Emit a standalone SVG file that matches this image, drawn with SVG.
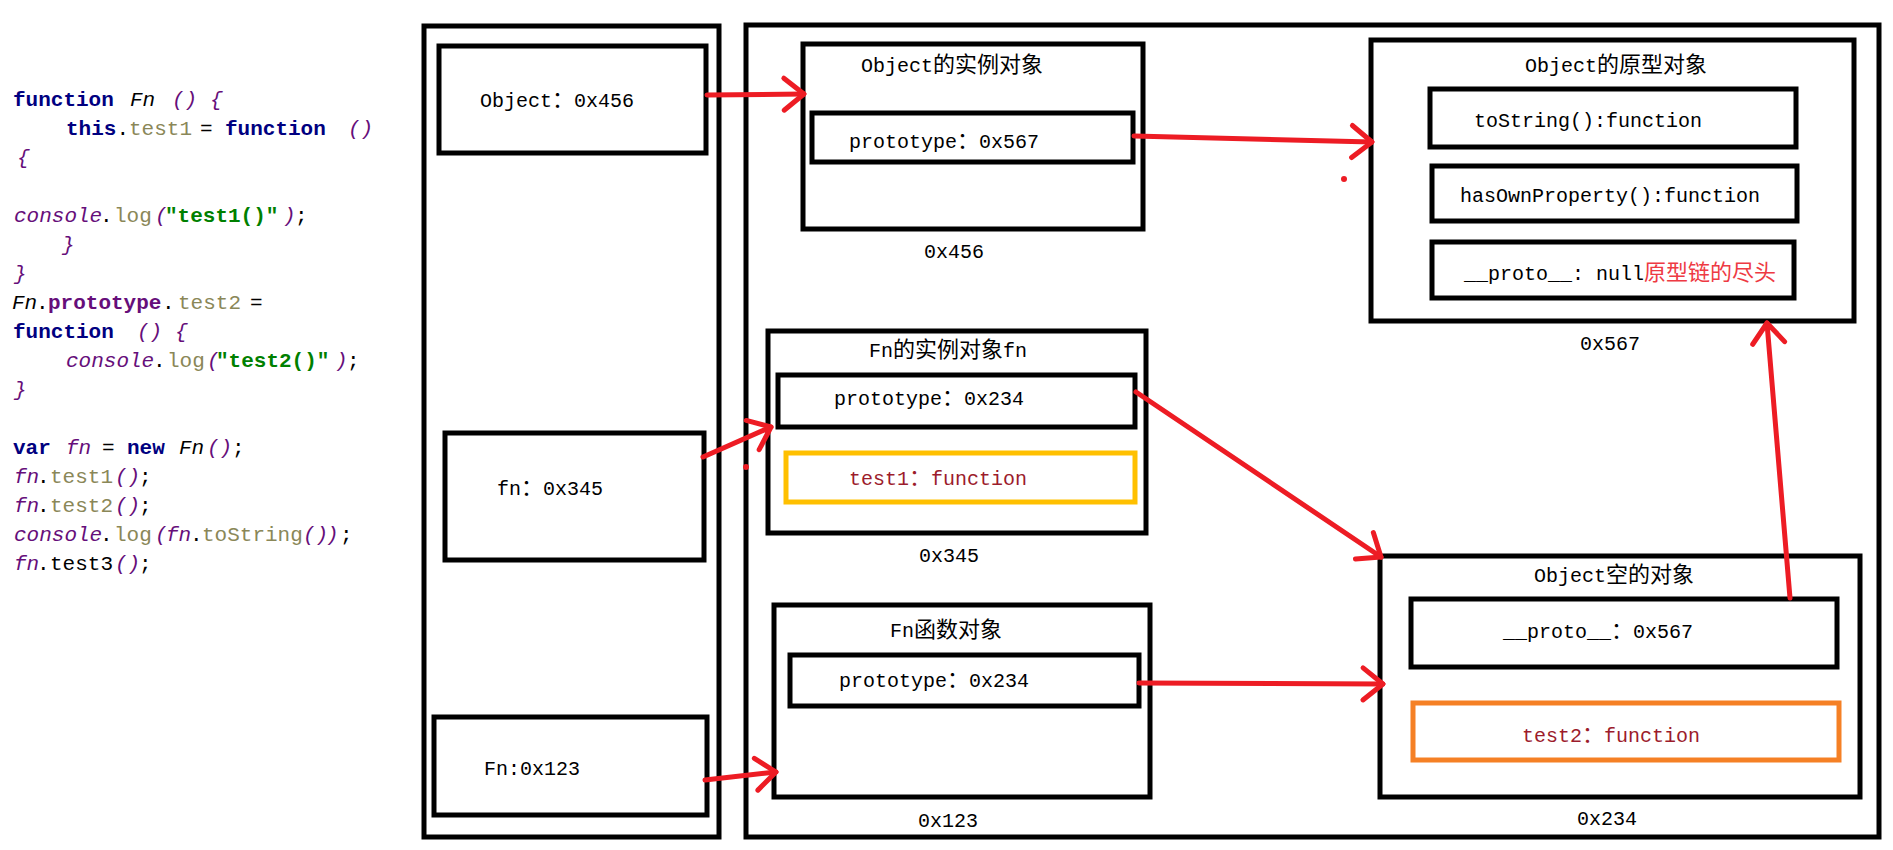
<svg xmlns="http://www.w3.org/2000/svg" width="1893" height="850" viewBox="0 0 1893 850">
<style>
.code{font-family:"Liberation Mono","Noto Sans CJK SC",monospace;font-size:21px;fill:#000}
.kw{font-weight:bold;fill:#000080}
.pu{font-style:italic;fill:#660e7a}
.pb{font-weight:bold;fill:#660e7a}
.it{font-style:italic;fill:#000}
.ol{fill:#8a8758}
.gr{font-weight:bold;fill:#008000}
.box{fill:none;stroke:#000;stroke-width:5}
.lbl{font-family:"Liberation Mono","Noto Sans CJK SC",monospace;font-size:20px;fill:#000}
.c{font-family:"Noto Sans CJK SC",sans-serif;font-size:22px}
.dr{fill:#9c1c2c}
.rd{fill:#ee3a43}
.yel{fill:none;stroke:#ffc000;stroke-width:5}
.org{fill:none;stroke:#f58025;stroke-width:5}
.arr{fill:none;stroke:#ed1c24;stroke-width:5;stroke-linecap:round;marker-end:url(#ah)}
</style>
<defs>
<marker id="ah" markerUnits="userSpaceOnUse" viewBox="-26 -22 30 44" refX="0" refY="0" markerWidth="30" markerHeight="44" orient="auto" overflow="visible">
<path d="M-20,-16 L0,0 L-20,16" fill="none" stroke="#ed1c24" stroke-width="5" stroke-linecap="round" stroke-linejoin="round"/>
</marker>
</defs>
<rect width="1893" height="850" fill="#fff"/>

<g id="code" class="code">
<text y="106"><tspan x="13" class="kw">function</tspan><tspan x="130" class="it">Fn</tspan><tspan x="172" class="pu">()</tspan><tspan x="210" class="pu">{</tspan></text>
<text y="135"><tspan x="66" class="kw">this</tspan><tspan>.</tspan><tspan x="129" class="ol">test1</tspan><tspan x="200">=</tspan><tspan x="225" class="kw">function</tspan><tspan x="348" class="pu">()</tspan></text>
<text y="164"><tspan x="17" class="pu">{</tspan></text>
<text y="222"><tspan x="14" class="pu">console</tspan><tspan x="100">.</tspan><tspan x="114" class="ol">log</tspan><tspan x="155" class="pu">(</tspan><tspan x="165" class="gr">"test1()"</tspan><tspan x="283" class="pu">)</tspan><tspan x="295">;</tspan></text>
<text y="251"><tspan x="62" class="pu">}</tspan></text>
<text y="280"><tspan x="14" class="pu">}</tspan></text>
<text y="309"><tspan x="12" class="it">Fn</tspan><tspan x="36">.</tspan><tspan x="48" class="pb">prototype</tspan><tspan x="162">.</tspan><tspan x="178" class="ol">test2</tspan><tspan x="250">=</tspan></text>
<text y="338"><tspan x="13" class="kw">function</tspan><tspan x="137" class="pu">()</tspan><tspan x="175" class="pu">{</tspan></text>
<text y="367"><tspan x="66" class="pu">console</tspan><tspan x="153">.</tspan><tspan x="167" class="ol">log</tspan><tspan x="207" class="pu">(</tspan><tspan x="216" class="gr">"test2()"</tspan><tspan x="335" class="pu">)</tspan><tspan x="347">;</tspan></text>
<text y="396"><tspan x="14" class="pu">}</tspan></text>
<text y="454"><tspan x="13" class="kw">var</tspan><tspan x="66" class="pu">fn</tspan><tspan x="102">=</tspan><tspan x="127" class="kw">new</tspan><tspan x="179" class="it">Fn</tspan><tspan x="207" class="pu">()</tspan><tspan x="232">;</tspan></text>
<text y="483"><tspan x="14" class="pu">fn</tspan><tspan x="37">.</tspan><tspan x="50" class="ol">test1</tspan><tspan x="115" class="pu">()</tspan><tspan x="139">;</tspan></text>
<text y="512"><tspan x="14" class="pu">fn</tspan><tspan x="37">.</tspan><tspan x="50" class="ol">test2</tspan><tspan x="115" class="pu">()</tspan><tspan x="139">;</tspan></text>
<text y="541"><tspan x="14" class="pu">console</tspan><tspan x="100">.</tspan><tspan x="114" class="ol">log</tspan><tspan x="155" class="pu">(</tspan><tspan x="166" class="pu">fn</tspan><tspan x="190">.</tspan><tspan x="202" class="ol">toString</tspan><tspan x="303" class="pu">()</tspan><tspan x="326" class="pu">)</tspan><tspan x="340">;</tspan></text>
<text y="570"><tspan x="14" class="pu">fn</tspan><tspan x="37">.</tspan><tspan x="50">test3</tspan><tspan x="115" class="pu">()</tspan><tspan x="139">;</tspan></text>
</g>

<g id="stack">
<rect class="box" x="424" y="26" width="295" height="811"/>
</g>
<g id="heap">
<rect class="box" x="746" y="25" width="1133" height="812"/>
</g>

<g id="var-object">
<rect class="box" x="439" y="46" width="267" height="107"/>
<text class="lbl" x="480" y="107">Object<tspan class="c">：</tspan>0x456</text>
</g>
<g id="var-fn">
<rect class="box" x="445" y="433" width="259" height="127"/>
<text class="lbl" x="497" y="495">fn<tspan class="c">：</tspan>0x345</text>
</g>
<g id="var-Fn">
<rect class="box" x="434" y="717" width="273" height="98"/>
<text class="lbl" x="484" y="775">Fn:0x123</text>
</g>

<g id="obj-instance">
<rect class="box" x="803" y="44" width="340" height="185"/>
<text class="lbl" x="861" y="72">Object<tspan class="c">的实例对象</tspan></text>
<rect class="box" x="812" y="113" width="321" height="49"/>
<text class="lbl" x="849" y="148">prototype<tspan class="c">：</tspan>0x567</text>
<text class="lbl" x="924" y="258">0x456</text>
</g>

<g id="obj-prototype">
<rect class="box" x="1371" y="40" width="483" height="281"/>
<text class="lbl" x="1525" y="72">Object<tspan class="c">的原型对象</tspan></text>
<rect class="box" x="1430" y="89" width="366" height="58"/>
<text class="lbl" x="1474" y="127">toString():function</text>
<rect class="box" x="1432" y="166" width="365" height="55"/>
<text class="lbl" x="1460" y="202">hasOwnProperty():function</text>
<rect class="box" x="1432" y="242" width="362" height="56"/>
<text class="lbl" x="1464" y="280">__proto__: null<tspan class="c rd">原型链的尽头</tspan></text>
<text class="lbl" x="1580" y="350">0x567</text>
</g>

<g id="fn-instance">
<rect class="box" x="768" y="331" width="378" height="202"/>
<text class="lbl" x="869" y="357">Fn<tspan class="c">的实例对象</tspan>fn</text>
<rect class="box" x="778" y="375" width="357" height="52"/>
<text class="lbl" x="834" y="405">prototype<tspan class="c">：</tspan>0x234</text>
<rect class="yel" x="786" y="453" width="349" height="49"/>
<text class="lbl dr" x="849" y="485">test1<tspan class="c">：</tspan>function</text>
<text class="lbl" x="919" y="562">0x345</text>
</g>

<g id="fn-function">
<rect class="box" x="774" y="605" width="376" height="192"/>
<text class="lbl" x="890" y="637">Fn<tspan class="c">函数对象</tspan></text>
<rect class="box" x="790" y="655" width="349" height="51"/>
<text class="lbl" x="839" y="687">prototype<tspan class="c">：</tspan>0x234</text>
<text class="lbl" x="918" y="827">0x123</text>
</g>

<g id="obj-empty">
<rect class="box" x="1380" y="556" width="480" height="241"/>
<text class="lbl" x="1534" y="582">Object<tspan class="c">空的对象</tspan></text>
<rect class="box" x="1411" y="599" width="426" height="68"/>
<text class="lbl" x="1503" y="638">__proto__<tspan class="c">：</tspan>0x567</text>
<rect class="org" x="1413" y="703" width="426" height="57"/>
<text class="lbl dr" x="1522" y="742">test2<tspan class="c">：</tspan>function</text>
<text class="lbl" x="1577" y="825">0x234</text>
</g>

<g id="connectors">
<path class="arr" d="M707,95 L804,94"/>
<path class="arr" d="M1134,136 L1372,142"/>
<path class="arr" d="M703,457 L771,427"/>
<path class="arr" d="M705,780 L776,772"/>
<path class="arr" d="M1136,392 L1381,557"/>
<path class="arr" d="M1139,683 L1383,684"/>
<path class="arr" d="M1790,598 L1767,323"/>
<circle cx="1344" cy="179" r="3" fill="#ed1c24"/>
<circle cx="746" cy="467" r="3" fill="#ed1c24"/>
</g>
</svg>
